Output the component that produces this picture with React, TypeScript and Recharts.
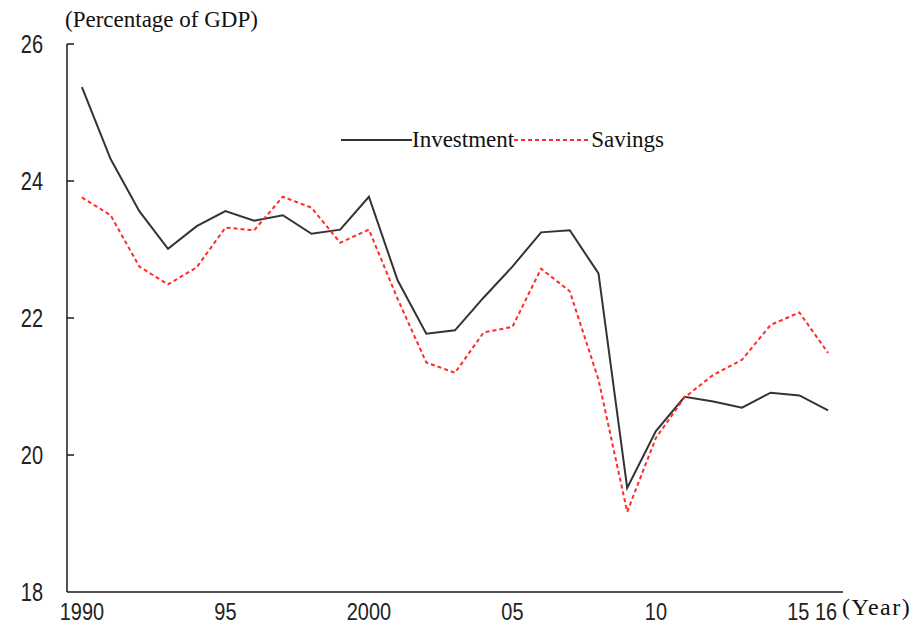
import React from 'react';
import { LineChart, Line, XAxis, YAxis } from 'recharts';

// Japan: investment and savings (% of GDP)
const years = [
  1990, 1991, 1992, 1993, 1994, 1995, 1996, 1997, 1998, 1999, 2000, 2001, 2002,
  2003, 2004, 2005, 2006, 2007, 2008, 2009, 2010, 2011, 2012, 2013, 2014, 2015, 2016,
];
const investment = [
  25.37, 24.32, 23.56, 23.01, 23.34, 23.56, 23.42, 23.5, 23.23, 23.29, 23.77, 22.55, 21.77,
  21.82, 22.3, 22.75, 23.25, 23.28, 22.65, 19.52, 20.35, 20.85, 20.78, 20.69, 20.91, 20.87, 20.65,
];
const savings = [
  23.76, 23.5, 22.75, 22.49, 22.74, 23.32, 23.28, 23.77, 23.61, 23.1, 23.29, 22.28, 21.35,
  21.2, 21.79, 21.87, 22.72, 22.39, 21.1, 19.17, 20.25, 20.84, 21.17, 21.39, 21.9, 22.08, 21.49,
];
const xTicks = [1990, 1995, 2000, 2005, 2010, 2015, 2016];
const xTickLabels = ['1990', '95', '2000', '05', '10', '15', '16'];
const yTicks = [18, 20, 22, 24, 26];

const chartData = years.map((year, i) => ({
  year,
  investment: investment[i],
  savings: savings[i],
}));

const SERIF = "'Liberation Serif', 'Times New Roman', serif";
const SANS = "'Liberation Sans', Arial, sans-serif";
const AXIS = '#1a1a1a';
const INV_COLOR = '#333';
const SAV_COLOR = '#ff2a2a';

// narrow digits like the original's bitmap font
const NarrowText = ({ x, y, anchor, size = 25, sx = 0.8, children }: any) => (
  <text
    transform={`translate(${x},${y}) scale(${sx},1)`}
    x={0}
    y={0}
    textAnchor={anchor}
    fontFamily={SANS}
    fontSize={size}
    fill="#222"
  >
    {children}
  </text>
);

const YTick = (props: any) => {
  const { x, y, payload } = props;
  return (
    <g>
      {payload.value !== 18 && (
        <line x1={x} y1={y} x2={x + 7} y2={y} stroke={AXIS} strokeWidth={1.5} />
      )}
      <NarrowText x={x - 24} y={y + 9} anchor="end">
        {payload.value}
      </NarrowText>
    </g>
  );
};

const XTick = (props: any) => {
  const { x, y, payload } = props;
  const idx = xTicks.indexOf(payload.value);
  const shift = payload.value === 2016 ? -2 : payload.value === 2015 ? -1 : 0;
  return (
    <NarrowText x={x + shift} y={y + 28} anchor="middle" size={24} sx={0.83}>
      {idx >= 0 ? xTickLabels[idx] : payload.value}
    </NarrowText>
  );
};

const LegendBox = () => (
  <div
    style={{
      position: 'absolute',
      left: 341,
      top: 127,
      display: 'flex',
      alignItems: 'center',
      fontFamily: SERIF,
      fontSize: 23,
      color: '#111',
      whiteSpace: 'nowrap',
    }}
  >
    <svg width={71} height={10}>
      <line x1={0} y1={5} x2={71} y2={5} stroke={INV_COLOR} strokeWidth={2} />
    </svg>
    <span>Investment</span>
    <svg width={77} height={10}>
      <line x1={0} y1={5} x2={77} y2={5} stroke={SAV_COLOR} strokeWidth={2} strokeDasharray="4 3" />
    </svg>
    <span>Savings</span>
  </div>
);

export default function App() {
  return (
    <div style={{ position: 'absolute', left: 0, top: 0, width: 919, height: 626, background: '#fff' }}>
      <div style={{ position: 'absolute', left: 65, top: 7, fontFamily: SERIF, fontSize: 23, color: '#111', whiteSpace: 'nowrap' }}>
        (Percentage of GDP)
      </div>
      <div style={{ position: 'absolute', left: 842, top: 594, fontFamily: SERIF, fontSize: 24, letterSpacing: 1.5, color: '#111', whiteSpace: 'nowrap' }}>
        (Year)
      </div>
      <LineChart
        width={919}
        height={626}
        data={chartData}
        margin={{ top: 44, right: 76, left: 0, bottom: 0 }}
      >
        <XAxis
          dataKey="year"
          type="number"
          domain={[1989.48, 2016.52]}
          ticks={xTicks}
          tick={<XTick />}
          tickLine={false}
          tickSize={0}
          tickMargin={0}
          height={34}
          interval={0}
          axisLine={{ stroke: AXIS, strokeWidth: 1.5 }}
        />
        <YAxis
          type="number"
          domain={[18, 26]}
          ticks={yTicks}
          tick={<YTick />}
          tickLine={false}
          tickSize={0}
          tickMargin={0}
          width={67}
          interval={0}
          axisLine={{ stroke: AXIS, strokeWidth: 1.5 }}
        />
        <Line
          type="linear"
          dataKey="investment"
          stroke={INV_COLOR}
          strokeWidth={2}
          dot={false}
          isAnimationActive={false}
        />
        <Line
          type="linear"
          dataKey="savings"
          stroke={SAV_COLOR}
          strokeWidth={2}
          strokeDasharray="4 3"
          dot={false}
          isAnimationActive={false}
        />
      </LineChart>
      <LegendBox />
    </div>
  );
}
